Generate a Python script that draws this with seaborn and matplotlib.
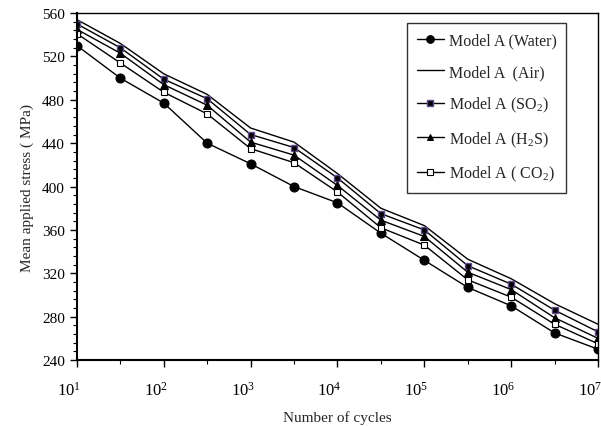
import pandas as pd
import numpy as np
import matplotlib
matplotlib.use('Agg')
import matplotlib.pyplot as plt
from matplotlib.ticker import MultipleLocator, FixedLocator, NullFormatter
import matplotlib.transforms as mtransforms
import seaborn as sns

# cycles at half-decade steps (10^1 ... 10^7)
cycles = [10, 31.62, 100, 316.2, 1000, 3162, 10000, 31623, 100000, 316228, 1000000, 3162278, 10000000]

# mean applied stress (MPa)
water = [530, 500, 477, 440, 421, 400, 385, 357, 332, 307, 290, 265, 250]
air = [554, 532, 504, 485, 454, 441, 412, 380, 364, 333, 315, 292, 273]
so2 = [550, 528, 499, 481, 448, 436, 408, 375, 360, 327, 310, 286, 266]
h2s = [545, 523, 494, 475, 441, 429, 401, 369, 354, 321, 305, 279, 260]
co2 = [541, 514, 487, 467, 435, 422, 395, 362, 346, 314, 298, 273, 255]

labels = ['Model A (Water)', 'Model A  (Air)', 'Model A (SO$_2$)', 'Model A (H$_2$S)', 'Model A ( CO$_2$)']

sns.set_style('ticks')
plt.rcParams['font.family'] = ['Liberation Serif', 'DejaVu Serif']
plt.rcParams['mathtext.default'] = 'regular'

fig = plt.figure(figsize=(6.01, 4.27), dpi=100)
ax = fig.add_axes([0.128, 0.1545, 0.867, 0.8125])

# marker styles for each series
styles = [
    dict(marker='o', markersize=6.5, markerfacecolor='black', markeredgecolor='black'),
    dict(marker=None),
    dict(marker='s', markersize=5, markerfacecolor='black', markeredgecolor='#5f4b8b', markeredgewidth=1),
    dict(marker='^', markersize=5.5, markerfacecolor='black', markeredgecolor='black'),
    dict(marker='s', markersize=5, markerfacecolor='white', markeredgecolor='black', markeredgewidth=0.8),
]

for vals, lab, st in zip([water, air, so2, h2s, co2], labels, styles):
    df = pd.DataFrame({'cycles': cycles, 'stress': vals})
    sns.lineplot(x='cycles', y='stress', data=df, ax=ax, color='black', linewidth=1.0,
                 label=lab, **st)

ax.set_xscale('log')
ax.set_xlim(10, 1e7)
ax.set_ylim(240, 560)
ax.yaxis.set_major_locator(MultipleLocator(40))
ax.yaxis.set_minor_locator(MultipleLocator(8))
ax.xaxis.set_major_locator(FixedLocator([1e1, 1e2, 1e3, 1e4, 1e5, 1e6, 1e7]))
ax.set_xticklabels(['$10^{%d}$' % i for i in range(1, 8)])
ax.xaxis.set_minor_locator(FixedLocator(cycles[1::2]))
ax.xaxis.set_minor_formatter(NullFormatter())

ax.tick_params(axis='both', which='major', direction='out', length=5, width=1, colors='black', labelsize=11)
ax.tick_params(axis='both', which='minor', direction='out', length=3, width=0.8, colors='black')
ax.tick_params(axis='x', which='major', pad=10, labelsize=12)
# labels sit just left of their tick, like the original
shift = mtransforms.ScaledTranslation(3 / 72, 0, fig.dpi_scale_trans)
for t in ax.get_xticklabels():
    t.set_horizontalalignment('right')
    t.set_transform(t.get_transform() + shift)

for s in ax.spines.values():
    s.set_linewidth(1)
    s.set_color('black')
ax.spines['bottom'].set_linewidth(1.5)
ax.spines['left'].set_linewidth(1.5)

ax.set_xlabel('Number of cycles', fontsize=11, labelpad=8)
ax.set_ylabel('Mean applied stress ( MPa)', fontsize=11, labelpad=6)

leg = ax.legend(loc='upper right', bbox_to_anchor=(0.939, 0.971), borderaxespad=0, fontsize=11.5,
                frameon=True, fancybox=False, edgecolor='black', handlelength=1.7, handletextpad=0.3,
                labelspacing=0.95, borderpad=0.6, markerscale=0.85)
leg.get_frame().set_linewidth(1)

plt.savefig('out.png', dpi=100)
